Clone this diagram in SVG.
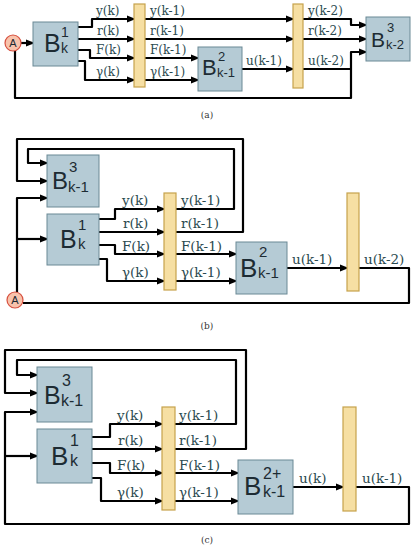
<svg xmlns="http://www.w3.org/2000/svg" width="416" height="550" viewBox="0 0 416 550">
<defs>
<marker id="ar" viewBox="0 0 10 8" refX="8" refY="4" markerWidth="9" markerHeight="7.2" markerUnits="userSpaceOnUse" orient="auto"><path d="M0,0 L10,4 L0,8 z" fill="#000"/></marker>
<style>
.w{fill:none;stroke:#000;stroke-width:2.2;stroke-linejoin:round}
.a{marker-end:url(#ar)}
.bx{fill:#b5cbd5;stroke:#6b8995;stroke-width:1}
.lt{fill:#f6dfa3;stroke:#c6a24c;stroke-width:1.2}
.ac{fill:#f8c3ac;stroke:#d7503f;stroke-width:1.2}
.bt{font-family:"Liberation Sans",Arial,sans-serif;fill:#1d2b33}
.la{font-family:"DejaVu Serif",serif;font-size:12px;fill:#2b4a4f}
.lb{font-family:"DejaVu Serif",serif;font-size:13.5px;fill:#2b4a4f}
.cap{font-family:"DejaVu Serif",serif;font-size:9px;fill:#333;text-anchor:middle}
</style>
</defs>

<g id="connectors">
<!-- panel a -->
<path class="w a" d="M21,43 H33"/>
<path class="w a" d="M78,27 H92 V19 H134"/>
<path class="w a" d="M78,39 H134"/>
<path class="w a" d="M78,50 H90 V58 H134"/>
<path class="w a" d="M78,61 H85 V80 H134"/>
<path class="w a" d="M145,19 H293"/>
<path class="w a" d="M145,39 H293"/>
<path class="w a" d="M145,58 H198"/>
<path class="w a" d="M145,80 H198"/>
<path class="w a" d="M242,69 H293"/>
<path class="w a" d="M303,19 H351 V25 H366"/>
<path class="w a" d="M303,39 H366"/>
<path class="w" d="M303,69 H351"/>
<path class="w a" d="M15,51 V98 H351 V52 H366"/>
<!-- panel b -->
<path class="w a" d="M176,232 H243 V139 H17 V181 H47"/>
<path class="w a" d="M176,209 H234 V149 H28 V163 H47"/>
<path class="w a" d="M17,292 V198 H47"/>
<path class="w a" d="M17,239 H47"/>
<path class="w" d="M359,268 H409 V303 H23"/>
<path class="w a" d="M99,219 H115 V209 H164"/>
<path class="w a" d="M99,232 H164"/>
<path class="w a" d="M99,245 H115 V254 H164"/>
<path class="w a" d="M99,259 H107 V281 H164"/>
<path class="w a" d="M176,254 H236"/>
<path class="w a" d="M176,281 H236"/>
<path class="w a" d="M287,268 H347"/>
<!-- panel c -->
<path class="w a" d="M175,449 H246 V350 H5 V393 H37"/>
<path class="w a" d="M175,424 H236 V360 H17 V375 H37"/>
<path class="w a" d="M356,487 H409 V524 H5 V412 H37"/>
<path class="w a" d="M5,456 H37"/>
<path class="w a" d="M92,437 H110 V424 H162"/>
<path class="w a" d="M92,449 H162"/>
<path class="w a" d="M92,463 H110 V473 H162"/>
<path class="w a" d="M92,478 H101 V501 H162"/>
<path class="w a" d="M175,473 H238"/>
<path class="w a" d="M175,501 H238"/>
<path class="w a" d="M293,487 H343"/>
</g>

<g id="labels">
<text class="la" x="96" y="15">y(k)</text>
<text class="la" x="97" y="35">r(k)</text>
<text class="la" x="96" y="54">F(k)</text>
<text class="la" x="96" y="76">γ(k)</text>
<text class="la" x="150" y="15">y(k-1)</text>
<text class="la" x="150" y="35">r(k-1)</text>
<text class="la" x="150" y="54">F(k-1)</text>
<text class="la" x="150" y="76">γ(k-1)</text>
<text class="la" x="246" y="65">u(k-1)</text>
<text class="la" x="308" y="15">y(k-2)</text>
<text class="la" x="308" y="35">r(k-2)</text>
<text class="la" x="308" y="65">u(k-2)</text>

<text class="lb" x="122" y="205">y(k)</text>
<text class="lb" x="123" y="228">r(k)</text>
<text class="lb" x="122" y="251">F(k)</text>
<text class="lb" x="122" y="277">γ(k)</text>
<text class="lb" x="181" y="205">y(k-1)</text>
<text class="lb" x="181" y="228">r(k-1)</text>
<text class="lb" x="181" y="251">F(k-1)</text>
<text class="lb" x="181" y="277">γ(k-1)</text>
<text class="lb" x="292" y="264">u(k-1)</text>
<text class="lb" x="364" y="264">u(k-2)</text>

<text class="lb" x="117" y="420">y(k)</text>
<text class="lb" x="118" y="445">r(k)</text>
<text class="lb" x="117" y="470">F(k)</text>
<text class="lb" x="117" y="497">γ(k)</text>
<text class="lb" x="179" y="420">y(k-1)</text>
<text class="lb" x="179" y="445">r(k-1)</text>
<text class="lb" x="179" y="470">F(k-1)</text>
<text class="lb" x="179" y="497">γ(k-1)</text>
<text class="lb" x="299" y="483">u(k)</text>
<text class="lb" x="362" y="483">u(k-1)</text>

<text class="cap" x="207" y="118">(a)</text>
<text class="cap" x="207" y="329">(b)</text>
<text class="cap" x="207" y="543">(c)</text>
</g>

<!-- panel a nodes -->
<g id="nodeA_a"><circle class="ac" cx="13" cy="43" r="8"/><text class="bt" x="13" y="47" font-size="11" text-anchor="middle">A</text></g>
<g id="B1_a"><rect class="bx" x="33" y="22" width="45" height="44"/><text class="bt" x="44" y="52" font-size="25">B</text><text class="bt" x="61" y="37" font-size="14">1</text><text class="bt" x="61" y="53" font-size="14">k</text></g>
<g id="L1_a"><rect class="lt" x="134" y="4" width="11" height="83"/></g>
<g id="B2_a"><rect class="bx" x="198" y="47" width="44" height="44"/><text class="bt" x="202" y="75" font-size="22">B</text><text class="bt" x="218" y="61" font-size="13">2</text><text class="bt" x="217" y="77" font-size="13">k-1</text></g>
<g id="L2_a"><rect class="lt" x="293" y="4" width="10" height="84"/></g>
<g id="B3_a"><rect class="bx" x="366" y="17" width="44" height="44"/><text class="bt" x="371" y="47" font-size="21">B</text><text class="bt" x="387" y="32" font-size="13">3</text><text class="bt" x="386" y="49" font-size="13">k-2</text></g>

<!-- panel b nodes -->
<g id="nodeA_b"><circle class="ac" cx="15" cy="300" r="8"/><text class="bt" x="15" y="304" font-size="11" text-anchor="middle">A</text></g>
<g id="B3_b"><rect class="bx" x="47" y="155" width="52" height="52"/><text class="bt" x="52" y="189" font-size="24">B</text><text class="bt" x="69" y="172" font-size="15">3</text><text class="bt" x="68" y="192" font-size="15">k-1</text></g>
<g id="B1_b"><rect class="bx" x="47" y="214" width="52" height="51"/><text class="bt" x="60" y="248" font-size="25">B</text><text class="bt" x="78" y="230" font-size="15">1</text><text class="bt" x="78" y="249" font-size="15">k</text></g>
<g id="L1_b"><rect class="lt" x="164" y="193" width="12" height="97"/></g>
<g id="B2_b"><rect class="bx" x="236" y="242" width="51" height="52"/><text class="bt" x="240" y="277" font-size="26">B</text><text class="bt" x="259" y="257" font-size="15">2</text><text class="bt" x="258" y="278" font-size="15">k-1</text></g>
<g id="L2_b"><rect class="lt" x="347" y="193" width="12" height="98"/></g>

<!-- panel c nodes -->
<g id="B3_c"><rect class="bx" x="37" y="367" width="55" height="55"/><text class="bt" x="44" y="404" font-size="25">B</text><text class="bt" x="62" y="386" font-size="16">3</text><text class="bt" x="61" y="406" font-size="16">k-1</text></g>
<g id="B1_c"><rect class="bx" x="37" y="429" width="55" height="54"/><text class="bt" x="51" y="465" font-size="26">B</text><text class="bt" x="70" y="446" font-size="16">1</text><text class="bt" x="70" y="466" font-size="16">k</text></g>
<g id="L1_c"><rect class="lt" x="162" y="407" width="13" height="103"/></g>
<g id="B2_c"><rect class="bx" x="238" y="460" width="55" height="54"/><text class="bt" x="244" y="495" font-size="26">B</text><text class="bt" x="263" y="479" font-size="16">2+</text><text class="bt" x="263" y="497" font-size="16">k-1</text></g>
<g id="L2_c"><rect class="lt" x="343" y="407" width="13" height="104"/></g>
</svg>
